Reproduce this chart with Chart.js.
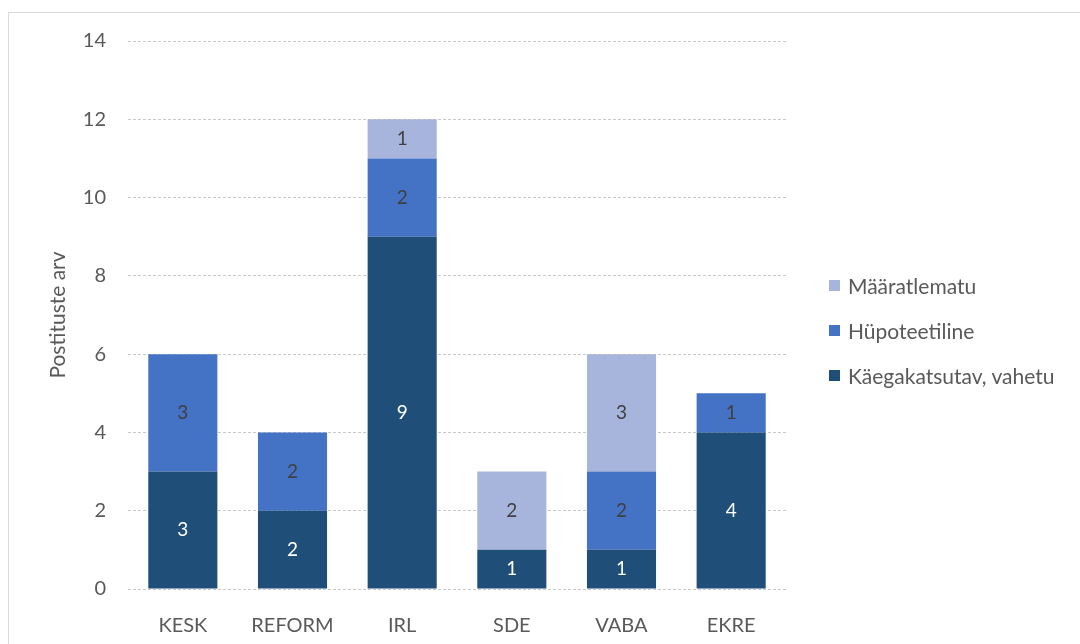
<!DOCTYPE html>
<html><head><meta charset="utf-8">
<script src="https://cdn.jsdelivr.net/npm/chart.js@4/dist/chart.umd.min.js"></script>
<style>
html,body{margin:0;padding:0;background:#fff;overflow:hidden;}
#frame{position:absolute;left:8px;top:12px;width:1200px;height:800px;border:1px solid #d9d9d9;box-sizing:border-box;}
#wrap{position:absolute;left:0;top:0;width:1080px;height:644px;}
#legend{position:absolute;left:829px;top:273px;font-family:Lato,"Open Sans",sans-serif;font-size:21px;color:#595959;}
#legend .it{display:flex;align-items:center;height:24px;margin-bottom:21px;white-space:nowrap;}
#legend .sw{width:11px;height:11px;margin-right:8px;}
</style></head>
<body>
<div id="frame"></div>
<div id="wrap"><canvas id="c" width="1080" height="644"></canvas></div>
<div id="legend"></div>
<script>
const categories = ["KESK", "REFORM", "IRL", "SDE", "VABA", "EKRE"];
const seriesNames = ["Käegakatsutav, vahetu", "Hüpoteetiline", "Määratlematu"];
const vahetu = [3, 2, 9, 1, 1, 4];
const hupoteetiline = [3, 2, 2, 0, 2, 1];
const maaratlematu = [0, 0, 1, 2, 3, 0];
const colors = ["#1f4e79", "#4472c4", "#a7b5dd"];
const labelColors = ["#ffffff", "#404040", "#404040"];
const yTicks = [0, 2, 4, 6, 8, 10, 12, 14];
const yTitle = "Postituste arv";

const seriesValues = [vahetu, hupoteetiline, maaratlematu];
const FONT = 'Lato, "Open Sans", sans-serif';

const valueLabels = {
  id: 'valueLabels',
  afterDatasetsDraw(chart) {
    const ctx = chart.ctx;
    ctx.save();
    ctx.font = '19px ' + FONT;
    ctx.textAlign = 'center';
    ctx.textBaseline = 'middle';
    chart.data.datasets.forEach((ds, i) => {
      const meta = chart.getDatasetMeta(i);
      meta.data.forEach((bar, j) => {
        const v = ds.data[j];
        if (!v) return;
        ctx.fillStyle = labelColors[i];
        ctx.fillText(String(v), bar.x, (bar.y + bar.base) / 2);
      });
    });
    ctx.restore();
  }
};

new Chart(document.getElementById('c'), {
  type: 'bar',
  data: {
    labels: categories,
    datasets: seriesValues.map((vals, i) => ({
      label: seriesNames[i],
      data: vals,
      backgroundColor: colors[i],
      borderWidth: 0,
      barPercentage: 0.63,
      categoryPercentage: 1.0
    }))
  },
  options: {
    responsive: false,
    animation: false,
    devicePixelRatio: 1,
    layout: { padding: { left: 46, right: 294, top: 41, bottom: 0 } },
    plugins: { legend: { display: false }, tooltip: { enabled: false } },
    scales: {
      x: {
        stacked: true,
        grid: { display: false },
        border: { display: false },
        ticks: { color: '#595959', font: { family: FONT, size: 20 }, padding: 17 },
        afterFit(s) { s.height = 55; }
      },
      y: {
        stacked: true,
        min: 0, max: 14,
        afterBuildTicks(s) { s.ticks = yTicks.map(v => ({ value: v })); },
        grid: { color: '#c8c8c8', drawTicks: false, lineWidth: 1 },
        border: { display: false, dash: [3, 2] },
        ticks: { color: '#595959', font: { family: FONT, size: 20 }, padding: 22 },
        title: { display: true, text: yTitle, color: '#595959', font: { family: FONT, size: 21 }, padding: 0 },
        afterFit(s) { s.width = 82; }
      }
    }
  },
  plugins: [valueLabels]
});

const lg = document.getElementById('legend');
[2, 1, 0].forEach(i => {
  const d = document.createElement('div');
  d.className = 'it';
  d.innerHTML = '<span class="sw" style="background:' + colors[i] + '"></span><span></span>';
  d.lastChild.textContent = seriesNames[i];
  lg.appendChild(d);
});
</script>
</body></html>
